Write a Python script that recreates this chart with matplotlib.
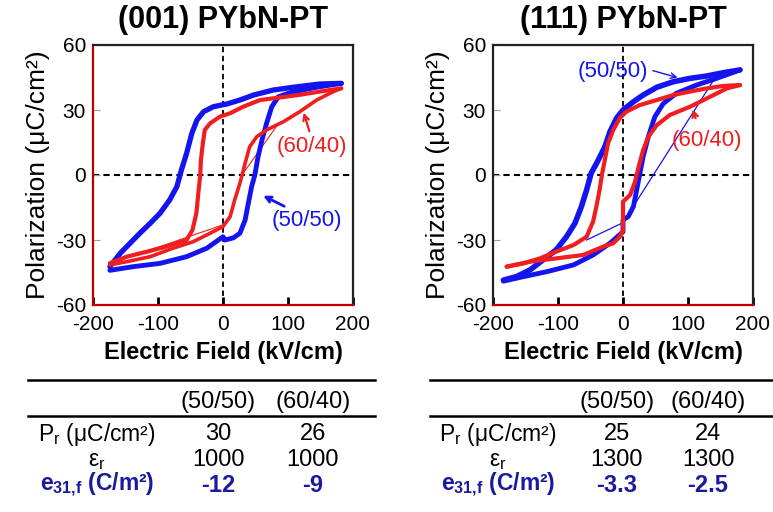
import numpy as np
import matplotlib
matplotlib.use('Agg')
import matplotlib.pyplot as plt
from matplotlib.lines import Line2D

plt.rcParams['font.family'] = ['Liberation Sans', 'DejaVu Sans']
plt.rcParams['mathtext.fontset'] = 'custom'
plt.rcParams['mathtext.rm'] = 'Liberation Sans'
plt.rcParams['mathtext.it'] = 'Liberation Sans'
plt.rcParams['mathtext.bf'] = 'Liberation Sans:bold'
plt.rcParams['axes.unicode_minus'] = False

BLUE = '#1414f0'
RED = '#f01e1e'
NAVY = '#1a1a9c'

# ---- (001) PYbN-PT loops, field in kV/cm, polarization in uC/cm2
a_b50_up_E = [182, 149, 108, 77, 47, 26, 6, -15, -30, -40, -48, -56, -64, -71, -82, -97, -112, -128, -143, -158, -174]
a_b50_up_P = [42.3, 42, 40.5, 39.2, 36.9, 34.6, 32.8, 31.5, 29.2, 25.4, 19.2, 10, 2.3, -5.4, -11.5, -17.7, -22.3, -26.9, -31.5, -36.1, -42.3]
a_b50_dn_E = [-174, -138, -97, -56, -25, 0, 3, 16, 26, 34, 39, 44, 49, 54, 60, 67, 75, 85, 103, 144, 182]
a_b50_dn_P = [-44, -42.3, -40.8, -37.7, -33.8, -28.5, -30, -29, -26.9, -20.8, -13, -5.4, 0, 8.5, 16.2, 23.8, 31.5, 36.1, 38, 40.5, 42.3]
a_r60_up_E = [182, 149, 118, 88, 57, 31, 11, -5, -20, -28, -31, -34, -35, -38, -41, -47, -56, -87, -117, -148, -174]
a_r60_up_P = [40, 38.5, 37, 35.8, 34.6, 31.5, 28.5, 26.9, 23.8, 20.8, 14.6, 6.9, 0, -8.5, -17.7, -25.4, -30, -33, -35.4, -37.7, -40.7]
a_r60_dn_E = [-174, -148, -112, -77, -46, -20, 0, 11, 18, 26, 34, 41, 52, 67, 93, 118, 144, 170, 182]
a_r60_dn_P = [-41.5, -40, -37.7, -33.8, -30.8, -26.9, -23.8, -19.2, -11.5, -3.8, 5.4, 13, 17.7, 20.8, 24.6, 29.2, 34.6, 38.5, 40]
a_r60_thin1_E = [-174, 0]
a_r60_thin1_P = [-41, -23]
a_r60_thin2_E = [31, 82]
a_r60_thin2_P = [0.8, 22.3]

# ---- (111) PYbN-PT loops
b_b50_up_E = [180, 154, 129, 103, 77, 52, 31, 16, 0, -10, -20, -28, -38, -49, -56, -64, -74, -87, -103, -123, -143, -164, -184]
b_b50_up_P = [48.5, 47.2, 45.7, 44.6, 43, 40.5, 36.9, 33.8, 30, 26.2, 20, 13, 6.9, 0.8, -6.9, -14.6, -22.3, -28.5, -34.6, -39.2, -43.8, -46.9, -48.5]
b_b50_dn_E = [-184, -153, -117, -76, -46, -20, 0, 0, 8, 16, 21, 26, 31, 39, 49, 62, 82, 113, 144, 180]
b_b50_dn_P = [-49, -46.9, -44.6, -41.5, -36.9, -31.5, -26.2, -20.8, -19.2, -14.6, -6.9, 0.8, 8.5, 17.7, 26.9, 33, 37.7, 41.5, 44.6, 48.5]
b_b50_thin_E = [-56, 0, 142]
b_b50_thin_P = [-30, -22, 45]
b_r60_up_E = [180, 154, 129, 103, 77, 52, 26, 5, -5, -15, -23, -28, -32, -36, -41, -46, -56, -76, -103, -128, -153, -179]
b_r60_up_P = [41.5, 41.1, 40, 38.5, 36.9, 34.6, 32.3, 29.2, 26.2, 20.8, 14.6, 6.9, 0.8, -6.9, -14.6, -21.5, -28.5, -32.3, -35.4, -38.5, -40.8, -42.3]
b_r60_dn_E = [-179, -143, -103, -61, -30, -15, -5, 0, 0, 11, 18.5, 24, 31, 39, 52, 72, 103, 134, 160, 180]
b_r60_dn_P = [-42.3, -40, -38.5, -36.9, -33, -31.5, -28.5, -25.4, -12.3, -9.2, -3.1, 3.8, 11.5, 17.7, 23, 27.7, 31.5, 36.1, 40, 41.5]

titles = ['(001) PYbN-PT', '(111) PYbN-PT']
col_heads = ['(50/50)', '(60/40)']
row_labels = [r'P$_\mathregular{r}$ ($\mathregular{\mu}$C/cm²)',
              r'$\mathregular{\varepsilon_r}$',
              r'$\mathbf{e_{31{,}f}}$ (C/m²)']
table_001 = [['30', '26'], ['1000', '1000'], ['-12', '-9']]
table_111 = [['25', '24'], ['1300', '1300'], ['-3.3', '-2.5']]

fig = plt.figure(figsize=(7.73, 5.12), dpi=100)
W, H = 773.0, 512.0
ax1 = fig.add_axes([93 / W, 1 - 305 / H, 260 / W, 260 / H])
ax2 = fig.add_axes([493 / W, 1 - 305 / H, 260 / W, 260 / H])


def style_axes(ax, title, red_left):
    ax.set_xlim(-200, 200)
    ax.set_ylim(-60, 60)
    ax.set_xticks([-200, -100, 0, 100, 200])
    ax.set_yticks([-60, -30, 0, 30, 60])
    ax.tick_params(axis='x', direction='in', length=6, width=2, labelsize=15, pad=7)
    ax.tick_params(axis='y', direction='in', length=5, width=0.8, color='#999999', labelsize=15, pad=5)
    for s in ax.spines.values():
        s.set_linewidth(1.6)
        s.set_color('#222222')
    ax.spines['bottom'].set_color('#c00000')
    if red_left:
        ax.spines['left'].set_color('#c00000')
    ax.axhline(0, color='black', lw=1.5, ls=(0, (3, 2)), zorder=1)
    ax.axvline(0, color='black', lw=1.3, ls=(0, (3, 2)), zorder=1)
    ax.set_title(title, fontsize=22, fontweight='bold', pad=12)
    ax.set_xlabel('Electric Field (kV/cm)', fontsize=17, fontweight='bold', labelpad=5)
    ax.set_ylabel('Polarization (μC/cm²)', fontsize=19, labelpad=4)


style_axes(ax1, titles[0], True)
style_axes(ax2, titles[1], False)

# left panel
ax1.plot(a_r60_thin1_E, a_r60_thin1_P, color=RED, lw=0.8)
ax1.plot(a_r60_thin2_E, a_r60_thin2_P, color=RED, lw=0.8)
ax1.plot(a_b50_up_E, a_b50_up_P, color=BLUE, lw=3.8, solid_capstyle='round', solid_joinstyle='round')
ax1.plot(a_b50_dn_E, a_b50_dn_P, color=BLUE, lw=3.5, solid_capstyle='round', solid_joinstyle='round')
ax1.plot(a_r60_up_E, a_r60_up_P, color=RED, lw=3, solid_capstyle='round', solid_joinstyle='round')
ax1.plot(a_r60_dn_E, a_r60_dn_P, color=RED, lw=2.6, solid_capstyle='round', solid_joinstyle='round')
ax1.text(137, 13, '(60/40)', color=RED, fontsize=16, ha='center', va='center')
ax1.annotate('', xy=(123, 30), xytext=(134, 19),
             arrowprops=dict(arrowstyle='->', color=RED, lw=1.6))
ax1.text(129, -21, '(50/50)', color=BLUE, fontsize=16, ha='center', va='center')
ax1.annotate('', xy=(58, -9), xytext=(98, -15),
             arrowprops=dict(arrowstyle='->', color=BLUE, lw=2))

# right panel
ax2.plot(b_b50_thin_E, b_b50_thin_P, color=BLUE, lw=0.9)
ax2.plot(b_b50_up_E, b_b50_up_P, color=BLUE, lw=4, solid_capstyle='round', solid_joinstyle='round')
ax2.plot(b_b50_dn_E, b_b50_dn_P, color=BLUE, lw=3.5, solid_capstyle='round', solid_joinstyle='round')
ax2.plot(b_r60_up_E, b_r60_up_P, color=RED, lw=3, solid_capstyle='round', solid_joinstyle='round')
ax2.plot(b_r60_dn_E, b_r60_dn_P, color=RED, lw=3, solid_capstyle='round', solid_joinstyle='round')
ax2.text(-15, 48, '(50/50)', color=BLUE, fontsize=16, ha='center', va='center')
ax2.annotate('', xy=(88, 44.6), xytext=(42, 48.5),
             arrowprops=dict(arrowstyle='->', color=BLUE, lw=1))
ax2.text(129, 16, '(60/40)', color=RED, fontsize=16, ha='center', va='center')
ax2.annotate('', xy=(106, 31.5), xytext=(113, 25),
             arrowprops=dict(arrowstyle='->', color=RED, lw=1.6))


# tables under the plots
def draw_table(x0, x1, xlab, xc1, xc2, vals):
    for yy in [380, 416]:
        fig.add_artist(Line2D([x0 / W, x1 / W], [1 - yy / H, 1 - yy / H],
                              color='black', lw=1.8))
    fig.text(xc1 / W, 1 - 402 / H, col_heads[0], fontsize=17, ha='center', va='center')
    fig.text(xc2 / W, 1 - 402 / H, col_heads[1], fontsize=17, ha='center', va='center')
    rows_y = [434, 460, 485]
    for i, yy in enumerate(rows_y):
        if i == 2:
            kw = dict(color=NAVY, fontweight='bold')
        else:
            kw = dict(color='black')
        fig.text(xlab / W, 1 - yy / H, row_labels[i], fontsize=16.5, ha='center', va='center', **kw)
        fig.text(xc1 / W, 1 - yy / H, vals[i][0], fontsize=17, ha='center', va='center', **kw)
        fig.text(xc2 / W, 1 - yy / H, vals[i][1], fontsize=17, ha='center', va='center', **kw)


draw_table(28, 375, 97, 218, 313, table_001)
draw_table(430, 773, 498, 617, 708, table_111)

fig.savefig('out.png', dpi=100)
